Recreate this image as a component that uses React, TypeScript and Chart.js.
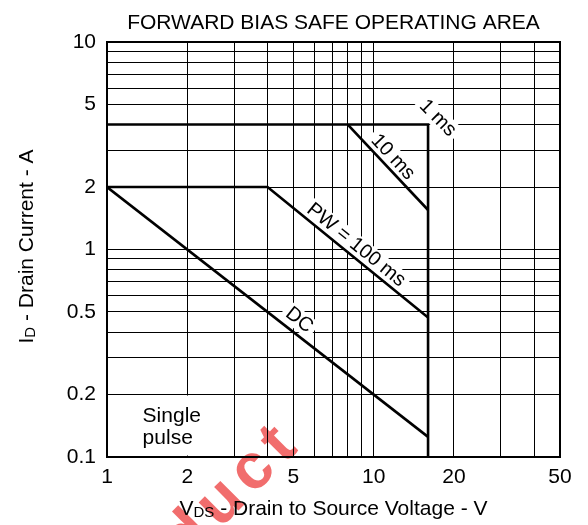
import React, { useEffect, useRef } from 'react';
import { Chart, registerables } from 'chart.js';

Chart.register(...registerables);

const FONT = '"Liberation Sans", Arial, Helvetica, sans-serif';

// Axis grid values and labelled ticks
const xGridValues = [1, 2, 3, 4, 5, 6, 7, 8, 9, 10, 20, 30, 40, 50];
const xTickLabels = [1, 2, 5, 10, 20, 50];
const yGridValues = [0.1, 0.2, 0.3, 0.4, 0.5, 0.6, 0.7, 0.8, 0.9, 1, 2, 3, 4, 5, 6, 7, 8, 9, 10];
const yTickLabels = [0.1, 0.2, 0.5, 1, 2, 5, 10];

// SOA boundary curves (V_DS in V, I_D in A)
const pw1msV = [1, 16, 16];
const pw1msI = [4, 4, 0.1];
const pw10msV = [8, 16];
const pw10msI = [4, 1.55];
const pw100msV = [1, 4, 16];
const pw100msI = [2, 2, 0.47];
const dcV = [1, 16];
const dcI = [2, 0.125];

// Curve annotations (anchored in data coordinates)
const curveLabelText = ['1 ms', '10 ms', 'PW = 100 ms', 'DC'];
const curveLabelV = [17.4, 11.8, 8.6, 5.26];
const curveLabelI = [4.3, 2.79, 1.05, 0.457];
const curveLabelAngle = [45, 47, 39, 38];

const noteLines = ['Single', 'pulse'];

const toXY = (xs: number[], ys: number[]) => xs.map((x, i) => ({ x, y: ys[i] }));

const near = (arr: number[], v: number) => arr.some((a) => Math.abs(a - v) < 1e-9 * Math.max(1, a));

function drawWithSub(
  ctx: CanvasRenderingContext2D,
  parts: { t: string; sub?: boolean }[],
  x: number,
  y: number,
  size: number,
  subSize: number
) {
  const widths = parts.map((p) => {
    ctx.font = `${p.sub ? subSize : size}px ${FONT}`;
    return ctx.measureText(p.t).width;
  });
  const total = widths.reduce((a, b) => a + b, 0);
  let cx = x - total / 2;
  ctx.textAlign = 'left';
  ctx.textBaseline = 'alphabetic';
  parts.forEach((p, i) => {
    ctx.font = `${p.sub ? subSize : size}px ${FONT}`;
    ctx.fillText(p.t, cx, y + (p.sub ? 1.5 : 0));
    cx += widths[i];
  });
}

const annotPlugin = {
  id: 'soaAnnot',
  beforeDraw(chart: any) {
    const ctx = chart.ctx as CanvasRenderingContext2D;
    ctx.save();
    ctx.font = `bold 64px ${FONT}`;
    (ctx as any).letterSpacing = '8px';
    ctx.fillStyle = 'rgba(236, 60, 60, 0.75)';
    ctx.translate(174, 550);
    ctx.rotate((-45 * Math.PI) / 180);
    ctx.textAlign = 'left';
    ctx.textBaseline = 'middle';
    ctx.fillText('duct', 0, 0);
    ctx.restore();
  },
  beforeDatasetsDraw(chart: any) {
    const ctx = chart.ctx as CanvasRenderingContext2D;
    const xs = chart.scales.x;
    const ys = chart.scales.y;
    const ca = chart.chartArea;
    ctx.save();
    ctx.fillStyle = '#fff';
    // Single pulse box
    const bx0 = xs.getPixelForValue(1) + 1.5;
    const bx1 = xs.getPixelForValue(3) - 1;
    const by0 = ys.getPixelForValue(0.2) + 1;
    const by1 = ys.getPixelForValue(0.1) - 1.5;
    ctx.fillRect(bx0, by0, bx1 - bx0, by1 - by0);
    // label backgrounds
    ctx.font = `20px ${FONT}`;
    curveLabelText.forEach((t, i) => {
      const px = xs.getPixelForValue(curveLabelV[i]);
      const py = ys.getPixelForValue(curveLabelI[i]);
      const w = ctx.measureText(t).width;
      ctx.save();
      ctx.translate(px, py);
      ctx.rotate((curveLabelAngle[i] * Math.PI) / 180);
      ctx.fillRect(-w / 2 - 4, -10, w + 8, 20);
      ctx.restore();
    });
    // frame
    ctx.strokeStyle = '#000';
    ctx.lineWidth = 2;
    ctx.strokeRect(ca.left, ca.top, ca.right - ca.left, ca.bottom - ca.top);
    ctx.restore();
  },
  afterDatasetsDraw(chart: any) {
    const ctx = chart.ctx as CanvasRenderingContext2D;
    const xs = chart.scales.x;
    const ys = chart.scales.y;
    ctx.save();
    ctx.fillStyle = '#000';
    ctx.font = `20px ${FONT}`;
    ctx.textAlign = 'center';
    ctx.textBaseline = 'middle';
    curveLabelText.forEach((t, i) => {
      const px = xs.getPixelForValue(curveLabelV[i]);
      const py = ys.getPixelForValue(curveLabelI[i]);
      ctx.save();
      ctx.translate(px, py);
      ctx.rotate((curveLabelAngle[i] * Math.PI) / 180);
      ctx.fillText(t, 0, 0);
      ctx.restore();
    });
    ctx.font = `21px ${FONT}`;
    ctx.textAlign = 'left';
    const nx = xs.getPixelForValue(1.36);
    const ny = ys.getPixelForValue(0.158);
    noteLines.forEach((t, i) => ctx.fillText(t, nx, ny + i * 22));
    ctx.restore();
  },
  afterDraw(chart: any) {
    const ctx = chart.ctx as CanvasRenderingContext2D;
    const ca = chart.chartArea;
    const cx = (ca.left + ca.right) / 2;
    const cy = (ca.top + ca.bottom) / 2;
    ctx.save();
    ctx.fillStyle = '#000';
    ctx.font = `21px ${FONT}`;
    ctx.textAlign = 'center';
    ctx.textBaseline = 'alphabetic';
    ctx.fillText('FORWARD BIAS SAFE OPERATING AREA', cx, 29);
    drawWithSub(
      ctx,
      [{ t: 'V' }, { t: 'DS', sub: true }, { t: ' - Drain to Source Voltage - V' }],
      cx,
      515,
      21,
      15
    );
    ctx.save();
    ctx.translate(33, cy - 3);
    ctx.rotate(-Math.PI / 2);
    drawWithSub(ctx, [{ t: 'I' }, { t: 'D', sub: true }, { t: ' - Drain Current - A' }], 0, 0, 21, 15);
    ctx.restore();
    ctx.restore();
  },
};

export default function App() {
  const ref = useRef<HTMLCanvasElement | null>(null);
  useEffect(() => {
    if (!ref.current) return;
    const lineDs = (data: { x: number; y: number }[]) => ({
      data,
      borderColor: '#000',
      borderWidth: 2.6,
      pointRadius: 0,
      showLine: true,
      fill: false,
      tension: 0,
    });
    const chart = new Chart(ref.current, {
      type: 'scatter',
      data: {
        datasets: [
          lineDs(toXY(pw1msV, pw1msI)),
          lineDs(toXY(pw10msV, pw10msI)),
          lineDs(toXY(pw100msV, pw100msI)),
          lineDs(toXY(dcV, dcI)),
        ],
      },
      options: {
        responsive: false,
        animation: false,
        layout: { padding: { left: 0, right: 28, top: 42, bottom: 0 } },
        plugins: { legend: { display: false }, tooltip: { enabled: false }, title: { display: false } },
        scales: {
          x: {
            type: 'logarithmic',
            min: 1,
            max: 50,
            afterBuildTicks: (s: any) => {
              s.ticks = xGridValues.map((v) => ({ value: v }));
            },
            afterFit: (s: any) => {
              s.height = 68;
            },
            grid: { color: '#000', lineWidth: 1, drawTicks: false },
            border: { display: false },
            ticks: {
              autoSkip: false,
              maxRotation: 0,
              padding: 8,
              color: '#000',
              font: { family: FONT, size: 21 },
              callback: (v: any) => (near(xTickLabels, Number(v)) ? String(v) : ''),
            },
          },
          y: {
            type: 'logarithmic',
            min: 0.1,
            max: 10,
            afterBuildTicks: (s: any) => {
              s.ticks = yGridValues.map((v) => ({ value: v }));
            },
            afterFit: (s: any) => {
              s.width = 107;
            },
            grid: { color: '#000', lineWidth: 1, drawTicks: false },
            border: { display: false },
            ticks: {
              autoSkip: false,
              padding: 11,
              color: '#000',
              font: { family: FONT, size: 21 },
              callback: (v: any) => (near(yTickLabels, Number(v)) ? String(v) : ''),
            },
          },
        },
      },
      plugins: [annotPlugin],
    } as any);
    return () => chart.destroy();
  }, []);
  return (
    <div style={{ position: 'absolute', left: 0, top: 0, width: 588, height: 525, background: '#fff' }}>
      <canvas ref={ref} width={588} height={525} style={{ display: 'block' }} />
    </div>
  );
}
